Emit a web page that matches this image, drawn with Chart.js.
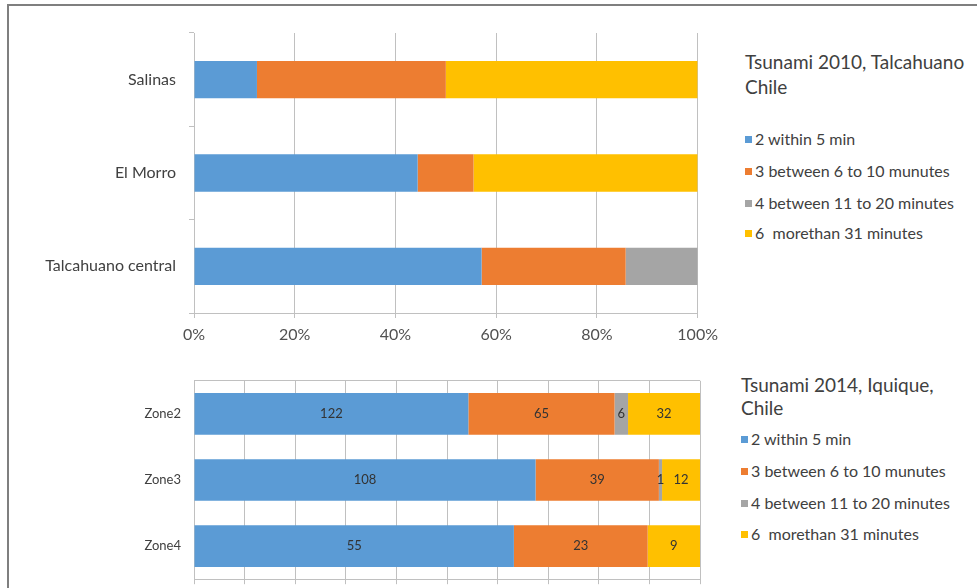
<!DOCTYPE html>
<html>
<head>
<meta charset="utf-8">
<script src="https://cdn.jsdelivr.net/npm/chart.js@4"></script>
<style>
  html, body { margin: 0; padding: 0; background: #fff; overflow: hidden; width: 977px; height: 588px; }
  body { position: relative; font-family: Lato, "Open Sans", sans-serif; }
  #frame { position: absolute; left: 7px; top: 4px; width: 1000px; height: 700px;
           border-left: 2px solid #7f7f7f; border-top: 2px solid #7f7f7f; }
  canvas { position: absolute; left: 0; }
  #c1 { top: 0; }
  #c2 { top: 360px; }
  .lg { position: absolute; color: #404040; white-space: pre; }
  .lg.title { font-size: 19px; line-height: 25px; }
  .lg.item { font-size: 16px; line-height: 20px; }
  .lg .box { display: inline-block; width: 7px; height: 7px; margin-right: 3px; vertical-align: 2px; }
</style>
</head>
<body>
<div id="frame"></div>
<canvas id="c1" width="725" height="360"></canvas>
<canvas id="c2" width="720" height="240"></canvas>
<div id="legends"></div>
<script>
const seriesNames = ['2 within 5 min', '3 between 6 to 10 munutes', '4 between 11 to 20 minutes', '6  morethan 31 minutes'];
const seriesColors = ['#5B9BD5', '#ED7D31', '#A5A5A5', '#FFC000'];

// Tsunami 2010, Talcahuano - share of answers (%)
const sites2010 = ['Salinas', 'El Morro', 'Talcahuano central'];
const within5_2010 = [12.5, 44.4, 57.1];
const between6to10_2010 = [37.5, 11.1, 28.6];
const between11to20_2010 = [0, 0, 14.3];
const over31_2010 = [50, 44.5, 0];
const title2010 = ['Tsunami 2010, Talcahuano', 'Chile'];

// Tsunami 2014, Iquique - counts (shown as 100% stacked)
const zones2014 = ['Zone2', 'Zone3', 'Zone4'];
const within5_2014 = [122, 108, 55];
const between6to10_2014 = [65, 39, 23];
const between11to20_2014 = [6, 1, 0];
const over31_2014 = [32, 12, 9];
const title2014 = ['Tsunami 2014, Iquique,', 'Chile'];

const FONT = 'Lato, "Open Sans", sans-serif';
const GRID = '#c0c0c0';

// legends (html)
function buildLegend(titleLines, titleTops, itemTops, left) {
    const root = document.getElementById('legends');
    titleLines.forEach((t, i) => {
        const d = document.createElement('div');
        d.className = 'lg title';
        d.style.left = left + 'px';
        d.style.top = titleTops[i] + 'px';
        d.textContent = t;
        root.appendChild(d);
    });
    seriesNames.forEach((name, i) => {
        const d = document.createElement('div');
        d.className = 'lg item';
        d.style.left = left + 'px';
        d.style.top = itemTops[i] + 'px';
        d.innerHTML = `<span class="box" style="background:${seriesColors[i]}"></span>`;
        d.appendChild(document.createTextNode(name));
        root.appendChild(d);
    });
}
buildLegend(title2010, [49, 74], [129, 161, 193, 223], 745);
buildLegend(title2014, [372, 395], [429, 461, 493, 524], 741);

// top chart: already percentages
const values2010 = [within5_2010, between6to10_2010, between11to20_2010, over31_2010];
new Chart(document.getElementById('c1'), {
    type: 'bar',
    data: {
        labels: sites2010,
        datasets: values2010.map((vals, i) => ({
            label: seriesNames[i],
            data: vals,
            backgroundColor: seriesColors[i],
            categoryPercentage: 1,
            barPercentage: 0.4
        }))
    },
    options: {
        indexAxis: 'y',
        responsive: false,
        animation: false,
        layout: { padding: { left: 0, right: 18, top: 33, bottom: 0 } },
        plugins: { legend: { display: false }, tooltip: { enabled: false } },
        scales: {
            x: {
                stacked: true, min: 0, max: 100,
                ticks: { stepSize: 20, callback: v => v + '%', color: '#505050', font: { family: FONT, size: 16 }, padding: 7 },
                grid: { color: GRID, tickLength: 5 },
                border: { color: GRID },
                afterFit: s => { s.height = 47; }
            },
            y: {
                stacked: true,
                ticks: { color: '#404040', font: { family: FONT, size: 16 }, padding: 13 },
                grid: { drawOnChartArea: false, tickLength: 5, color: GRID },
                border: { color: GRID },
                afterFit: s => { s.width = 194; }
            }
        }
    }
});

// bottom chart: counts -> percent of each zone, counts printed on the segments
const counts2014 = [within5_2014, between6to10_2014, between11to20_2014, over31_2014];
const totals2014 = zones2014.map((_, j) => counts2014.reduce((a, s) => a + s[j], 0));

const segmentLabels = {
    id: 'segmentLabels',
    afterDatasetsDraw(chart) {
        const ctx = chart.ctx;
        ctx.save();
        ctx.font = '13px ' + FONT;
        ctx.fillStyle = '#333333';
        ctx.textAlign = 'center';
        ctx.textBaseline = 'middle';
        chart.data.datasets.forEach((ds, i) => {
            chart.getDatasetMeta(i).data.forEach((bar, j) => {
                const v = ds.counts[j];
                if (!v) return;
                ctx.fillText(String(v), (bar.x + bar.base) / 2, bar.y);
            });
        });
        ctx.restore();
    }
};

new Chart(document.getElementById('c2'), {
    type: 'bar',
    data: {
        labels: zones2014,
        datasets: counts2014.map((vals, i) => ({
            label: seriesNames[i],
            counts: vals,
            data: vals.map((v, j) => v / totals2014[j] * 100),
            backgroundColor: seriesColors[i],
            categoryPercentage: 1,
            barPercentage: 0.63
        }))
    },
    options: {
        indexAxis: 'y',
        responsive: false,
        animation: false,
        layout: { padding: { left: 0, right: 20, top: 17, bottom: 0 } },
        plugins: { legend: { display: false }, tooltip: { enabled: false } },
        scales: {
            x: {
                stacked: true, min: 0, max: 100,
                ticks: { stepSize: 10, display: false },
                grid: { color: GRID, tickLength: 5 },
                border: { color: GRID },
                afterFit: s => { s.height = 15; }
            },
            y: {
                stacked: true,
                ticks: { color: '#404040', font: { family: FONT, size: 13 }, padding: 13 },
                grid: { drawTicks: false, color: c => c.index === 0 ? GRID : 'rgba(0,0,0,0)' },
                border: { color: GRID },
                afterFit: s => { s.width = 194; }
            }
        }
    },
    plugins: [segmentLabels]
});
</script>
</body>
</html>
